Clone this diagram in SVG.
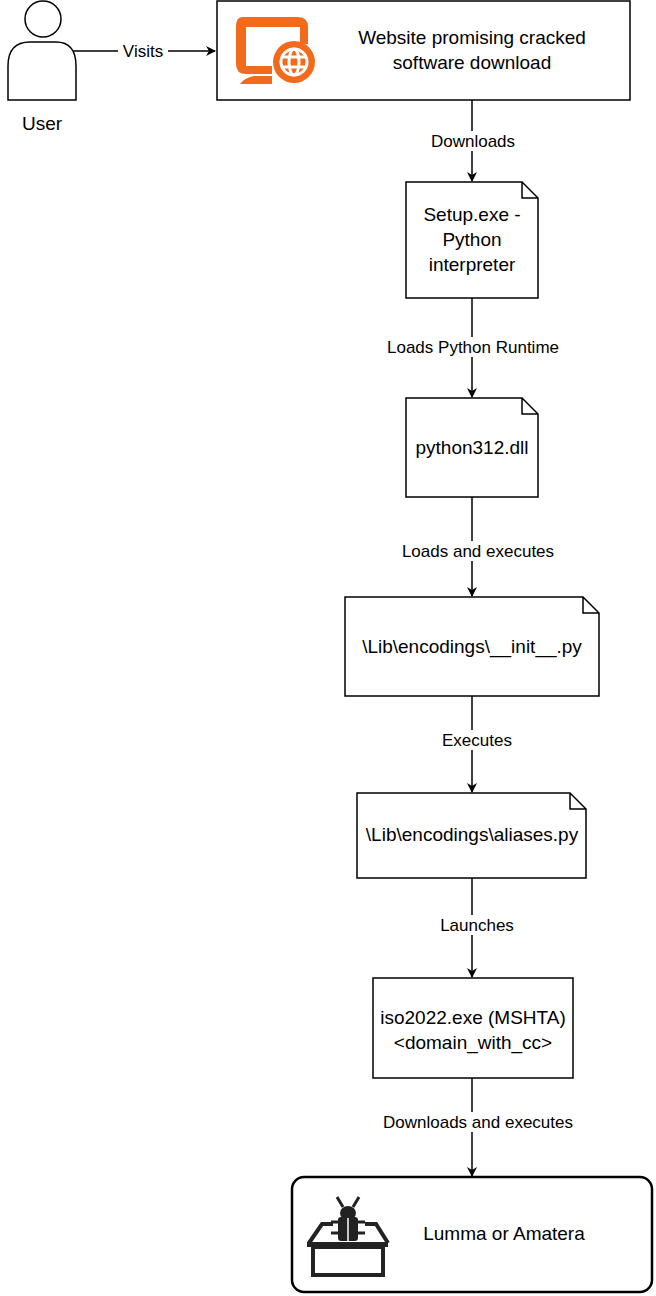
<svg xmlns="http://www.w3.org/2000/svg" width="656" height="1296" viewBox="0 0 656 1296">
<style>
text{font-family:"Liberation Sans",Arial,sans-serif;fill:#000;text-anchor:middle}
.t{font-size:19px}
.l{font-size:17px}
.s{fill:#fff;stroke:#000;stroke-width:1.5}
.c{stroke:#000;stroke-width:1.5;fill:none}
</style>
<defs>
<marker id="a" markerWidth="10" markerHeight="10" refX="9" refY="5" orient="auto" markerUnits="userSpaceOnUse"><path d="M0,0 L10,5 L0,10 L3,5 Z" fill="#000"/></marker>
</defs>
<rect width="656" height="1296" fill="#fff"/>
<g id="connectors">
<line class="c" x1="70" y1="51" x2="215" y2="51" marker-end="url(#a)"/>
<line class="c" x1="472" y1="100" x2="472" y2="181" marker-end="url(#a)"/>
<line class="c" x1="472" y1="298" x2="472" y2="397" marker-end="url(#a)"/>
<line class="c" x1="472" y1="497" x2="472" y2="596" marker-end="url(#a)"/>
<line class="c" x1="472" y1="696" x2="472" y2="792" marker-end="url(#a)"/>
<line class="c" x1="472" y1="878" x2="472" y2="977" marker-end="url(#a)"/>
<line class="c" x1="472" y1="1078" x2="472" y2="1176" marker-end="url(#a)"/>
<g class="l">
<rect x="118" y="41" width="50" height="20" fill="#fff"/><text x="143" y="57">Visits</text>
<rect x="425" y="131" width="96" height="20" fill="#fff"/><text x="473" y="147">Downloads</text>
<rect x="378" y="337" width="190" height="20" fill="#fff"/><text x="473" y="353">Loads Python Runtime</text>
<rect x="394" y="541" width="168" height="20" fill="#fff"/><text x="478" y="557">Loads and executes</text>
<rect x="436" y="730" width="82" height="20" fill="#fff"/><text x="477" y="746">Executes</text>
<rect x="434" y="915" width="86" height="20" fill="#fff"/><text x="477" y="931">Launches</text>
<rect x="374" y="1112" width="210" height="20" fill="#fff"/><text x="478" y="1128">Downloads and executes</text>
</g>
</g>
<g id="user">
<circle class="s" cx="43" cy="19" r="18"/>
<path class="s" d="M8,100 V66 Q8,42 30,42 H56 Q76,42 76,66 V100 Z"/>
<text class="t" x="42" y="130">User</text>
</g>
<g id="website">
<rect class="s" x="217" y="1" width="413" height="99"/>
<path d="M242,17 H298 Q308,17 308,27 V44 H300 V27 H246 V66 H272 V74 H246 Q236,74 236,64 V27 Q236,17 242,17 Z" fill="#f26b1d"/>
<path d="M254,76 H272 V84 H240 Q244,78 254,76 Z" fill="#f26b1d"/>
<circle cx="294" cy="62" r="21" fill="#f26b1d"/>
<g fill="none" stroke="#fff" stroke-width="3">
<circle cx="294" cy="62" r="13"/>
<ellipse cx="294" cy="62" rx="5" ry="13"/>
<line x1="281" y1="57" x2="307" y2="57"/>
<line x1="281" y1="67" x2="307" y2="67"/>
</g>
<text class="t" x="472" y="44">Website promising cracked</text>
<text class="t" x="472" y="69">software download</text>
</g>
<g id="setup">
<path class="s" d="M406,182 H522 L538,198 V298 H406 Z M522,182 V198 H538"/>
<text class="t" x="472" y="221">Setup.exe -</text>
<text class="t" x="472" y="246">Python</text>
<text class="t" x="472" y="271">interpreter</text>
</g>
<g id="python312">
<path class="s" d="M406,398 H522 L538,414 V497 H406 Z M522,398 V414 H538"/>
<text class="t" x="472" y="454">python312.dll</text>
</g>
<g id="init">
<path class="s" d="M345,597 H583 L599,613 V696 H345 Z M583,597 V613 H599"/>
<text class="t" x="472" y="653">\Lib\encodings\__init__.py</text>
</g>
<g id="aliases">
<path class="s" d="M357,793 H570 L586,809 V878 H357 Z M570,793 V809 H586"/>
<text class="t" x="472" y="841">\Lib\encodings\aliases.py</text>
</g>
<g id="iso2022">
<rect class="s" x="373" y="978" width="200" height="100"/>
<text class="t" x="473" y="1024">iso2022.exe (MSHTA)</text>
<text class="t" x="473" y="1049">&lt;domain_with_cc&gt;</text>
</g>
<g id="lumma">
<rect x="292" y="1177" width="360" height="115" rx="12" fill="#fff" stroke="#000" stroke-width="2.5"/>
<g fill="#222" stroke="#222">
<path d="M309,1243 L322,1224 H333 M365,1224 H376 L388,1243" fill="none" stroke-width="4"/>
<rect x="307" y="1242" width="81" height="5" stroke="none"/>
<rect x="313" y="1247" width="70" height="28" fill="none" stroke-width="4"/>
<ellipse cx="348" cy="1213" rx="8" ry="7" stroke="none"/>
<rect x="338" y="1217" width="20" height="24" rx="3" stroke="none"/>
<path d="M343,1207 L337,1197 M353,1207 L359,1197 M338,1222 H331 M358,1222 H365 M338,1233 H331 M358,1233 H365" fill="none" stroke-width="3"/>
</g>
<line x1="348" y1="1218" x2="348" y2="1241" stroke="#fff" stroke-width="1.5"/>
<text class="t" x="504" y="1240">Lumma or Amatera</text>
</g>
</svg>
